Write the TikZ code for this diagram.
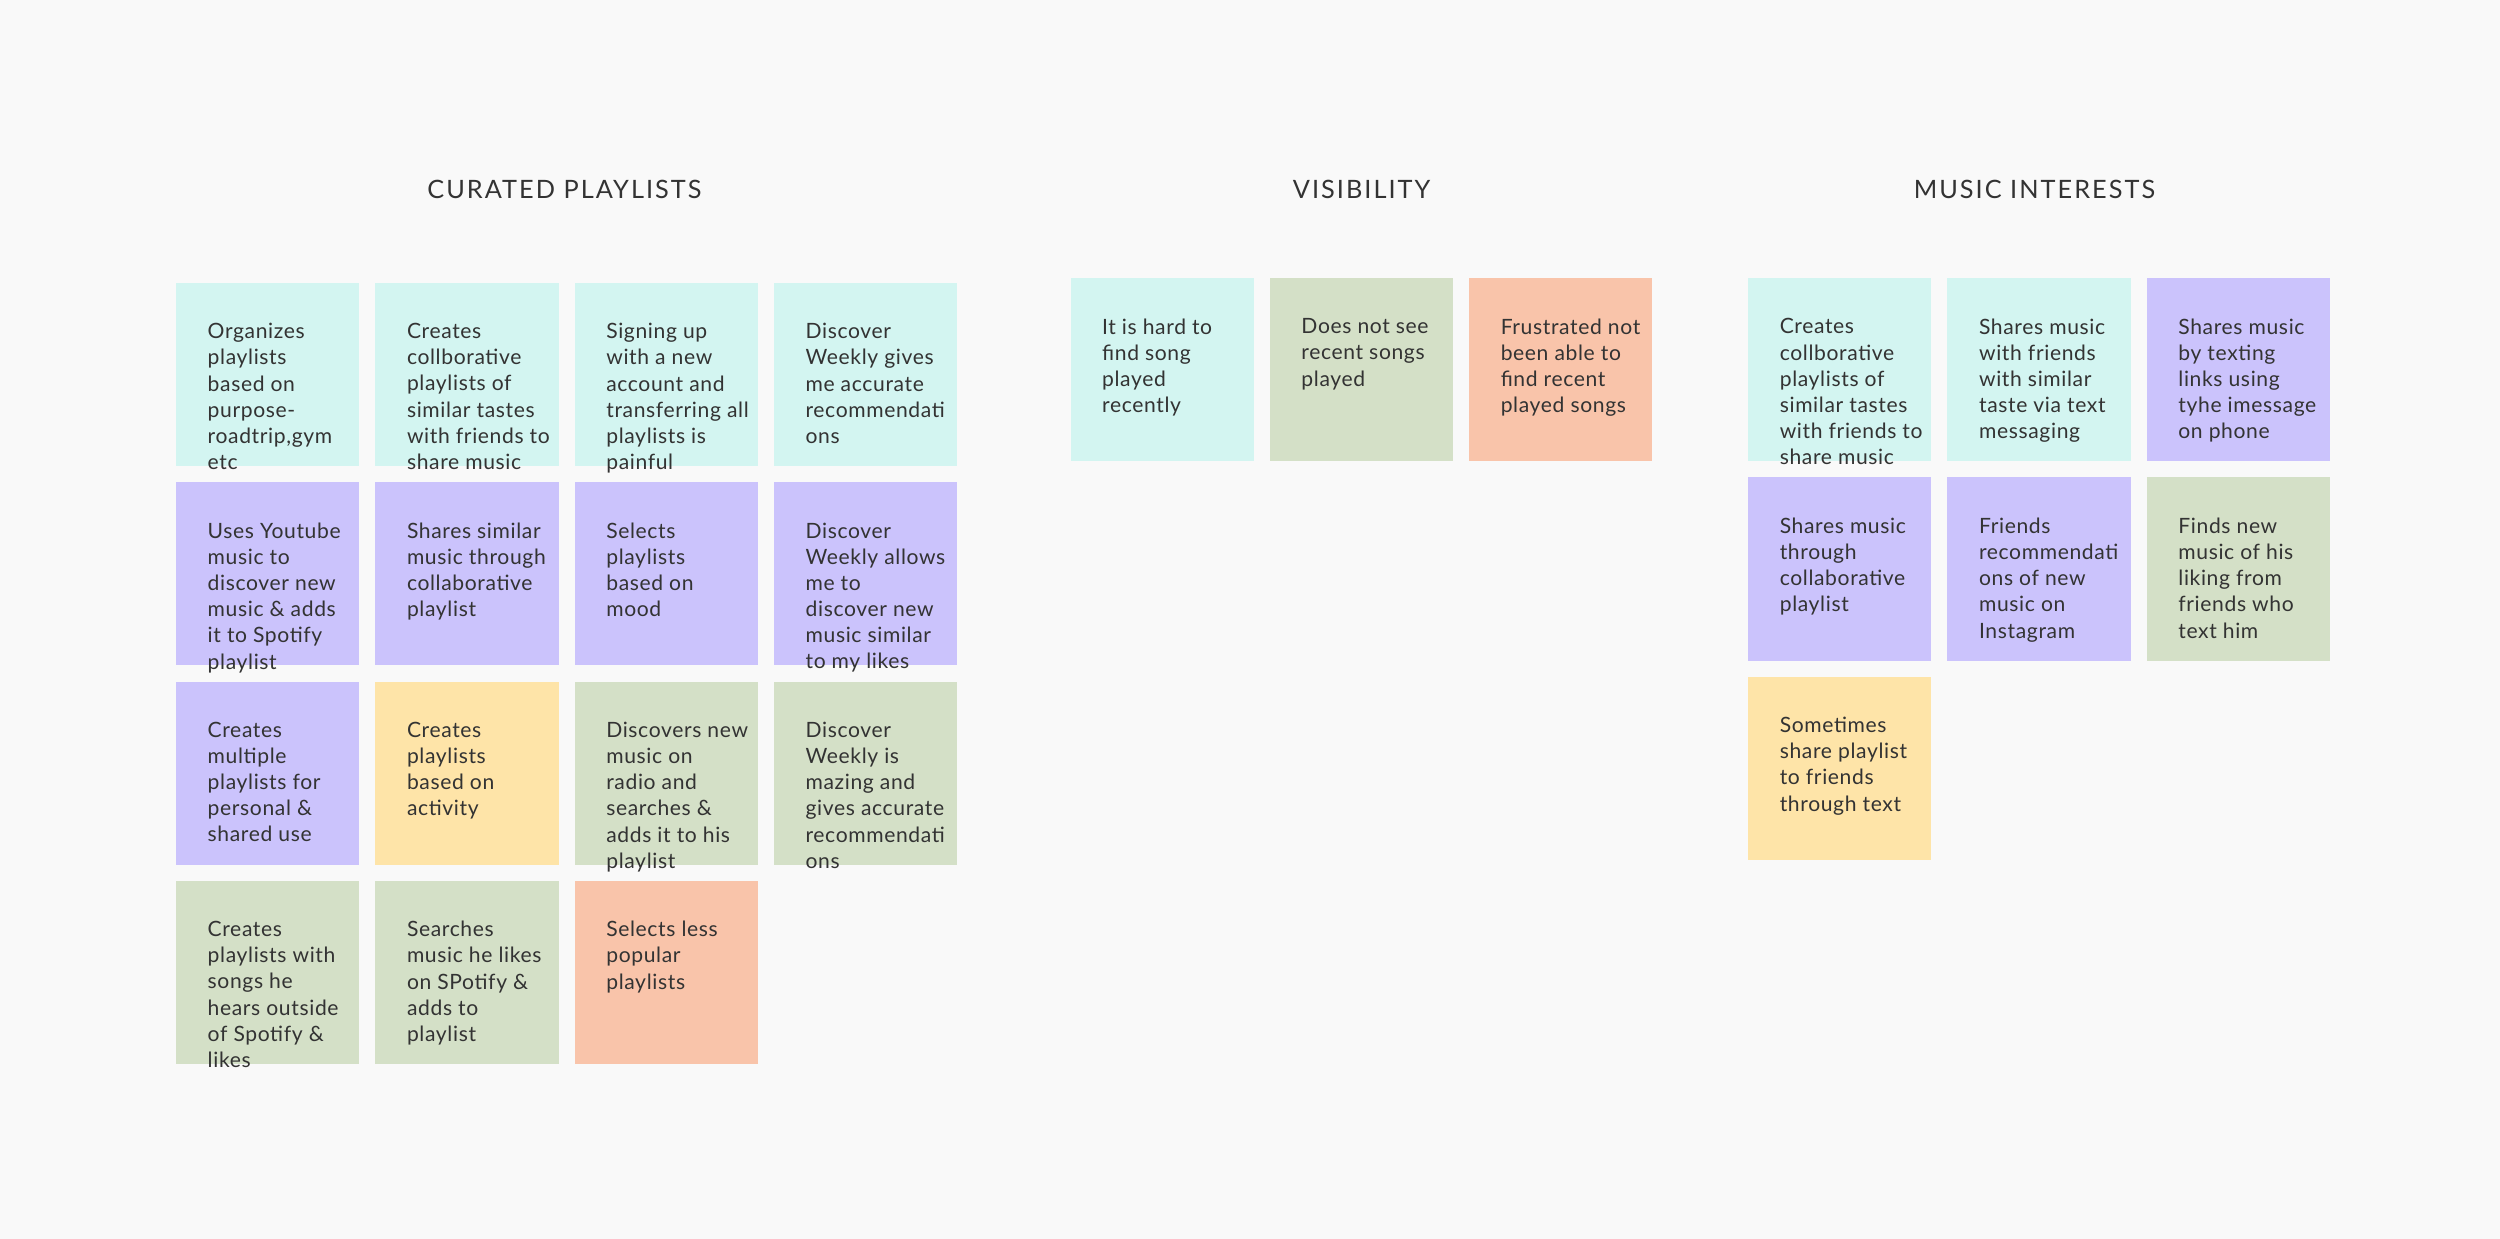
\documentclass[tikz,border=0pt]{standalone}
\usepackage{fontspec}
\setmainfont{Lato}
\definecolor{bg}{HTML}{F9F9F9}
\definecolor{teal}{HTML}{D3F5F1}
\definecolor{lilac}{HTML}{CBC3FC}
\definecolor{sage}{HTML}{D4E0C7}
\definecolor{sand}{HTML}{FEE4A8}
\definecolor{peach}{HTML}{F9C4AA}
\definecolor{ink}{HTML}{333333}
\begin{document}
\begin{tikzpicture}[x=0.01594cm, y=-0.01594cm,
    note/.style={anchor=north west, minimum width=1.833cm, minimum height=1.833cm, inner sep=0pt},
    txt/.style={anchor=north west, align=left, inner sep=0pt, text=ink, font=\fontsize{6}{7.45}\selectfont\addfontfeature{LetterSpace=3}},
    head/.style={text=ink, font=\fontsize{7.2}{8}\selectfont\addfontfeature{LetterSpace=8}}]
    \fill[bg] (0,0) rectangle (1568,777);
    \useasboundingbox (0,0) rectangle (1568,777);

    \node[head] (h1) at (354,119) {CURATED PLAYLISTS};
    \node[head] (h2) at (854,119) {VISIBILITY};
    \node[head] (h3) at (1276,119) {MUSIC INTERESTS};

    % curated playlists
    \node[note, fill=teal] (c1) at (110,177) {};
    \node[txt] at ([shift={(9pt,-11.5pt)}]c1.north west) {Organizes\\playlists\\based on\\purpose-\\roadtrip,gym\\etc};
    \node[note, fill=teal] (c2) at (235,177) {};
    \node[txt] at ([shift={(9pt,-11.5pt)}]c2.north west) {Creates\\collborative\\playlists of\\similar tastes\\with friends to\\share music};
    \node[note, fill=teal] (c3) at (360,177) {};
    \node[txt] at ([shift={(9pt,-11.5pt)}]c3.north west) {Signing up\\with a new\\account and\\transferring all\\playlists is\\painful};
    \node[note, fill=teal] (c4) at (485,177) {};
    \node[txt] at ([shift={(9pt,-11.5pt)}]c4.north west) {Discover\\Weekly gives\\me accurate\\recommendati\\ons};
    \node[note, fill=lilac] (c5) at (110,302) {};
    \node[txt] at ([shift={(9pt,-11.5pt)}]c5.north west) {Uses Youtube\\music to\\discover new\\music \& adds\\it to Spotify\\playlist};
    \node[note, fill=lilac] (c6) at (235,302) {};
    \node[txt] at ([shift={(9pt,-11.5pt)}]c6.north west) {Shares similar\\music through\\collaborative\\playlist};
    \node[note, fill=lilac] (c7) at (360,302) {};
    \node[txt] at ([shift={(9pt,-11.5pt)}]c7.north west) {Selects\\playlists\\based on\\mood};
    \node[note, fill=lilac] (c8) at (485,302) {};
    \node[txt] at ([shift={(9pt,-11.5pt)}]c8.north west) {Discover\\Weekly allows\\me to\\discover new\\music similar\\to my likes};
    \node[note, fill=lilac] (c9) at (110,427) {};
    \node[txt] at ([shift={(9pt,-11.5pt)}]c9.north west) {Creates\\multiple\\playlists for\\personal \&\\shared use};
    \node[note, fill=sand] (c10) at (235,427) {};
    \node[txt] at ([shift={(9pt,-11.5pt)}]c10.north west) {Creates\\playlists\\based on\\activity};
    \node[note, fill=sage] (c11) at (360,427) {};
    \node[txt] at ([shift={(9pt,-11.5pt)}]c11.north west) {Discovers new\\music on\\radio and\\searches \&\\adds it to his\\playlist};
    \node[note, fill=sage] (c12) at (485,427) {};
    \node[txt] at ([shift={(9pt,-11.5pt)}]c12.north west) {Discover\\Weekly is\\mazing and\\gives accurate\\recommendati\\ons};
    \node[note, fill=sage] (c13) at (110,552) {};
    \node[txt] at ([shift={(9pt,-11.5pt)}]c13.north west) {Creates\\playlists with\\songs he\\hears outside\\of Spotify \&\\likes};
    \node[note, fill=sage] (c14) at (235,552) {};
    \node[txt] at ([shift={(9pt,-11.5pt)}]c14.north west) {Searches\\music he likes\\on SPotify \&\\adds to\\playlist};
    \node[note, fill=peach] (c15) at (360,552) {};
    \node[txt] at ([shift={(9pt,-11.5pt)}]c15.north west) {Selects less\\popular\\playlists};

    % visibility
    \node[note, fill=teal] (v1) at (671,174) {};
    \node[txt] at ([shift={(9pt,-11.5pt)}]v1.north west) {It is hard to\\find song\\played\\recently};
    \node[note, fill=sage] (v2) at (796,174) {};
    \node[txt] at ([shift={(9pt,-11.5pt)}]v2.north west) {Does not see\\recent songs\\played};
    \node[note, fill=peach] (v3) at (921,174) {};
    \node[txt] at ([shift={(9pt,-11.5pt)}]v3.north west) {Frustrated not\\been able to\\find recent\\played songs};

    % music interests
    \node[note, fill=teal] (m1) at (1096,174) {};
    \node[txt] at ([shift={(9pt,-11.5pt)}]m1.north west) {Creates\\collborative\\playlists of\\similar tastes\\with friends to\\share music};
    \node[note, fill=teal] (m2) at (1221,174) {};
    \node[txt] at ([shift={(9pt,-11.5pt)}]m2.north west) {Shares music\\with friends\\with similar\\taste via text\\messaging};
    \node[note, fill=lilac] (m3) at (1346,174) {};
    \node[txt] at ([shift={(9pt,-11.5pt)}]m3.north west) {Shares music\\by texting\\links using\\tyhe imessage\\on phone};
    \node[note, fill=lilac] (m4) at (1096,299) {};
    \node[txt] at ([shift={(9pt,-11.5pt)}]m4.north west) {Shares music\\through\\collaborative\\playlist};
    \node[note, fill=lilac] (m5) at (1221,299) {};
    \node[txt] at ([shift={(9pt,-11.5pt)}]m5.north west) {Friends\\recommendati\\ons of new\\music on\\Instagram};
    \node[note, fill=sage] (m6) at (1346,299) {};
    \node[txt] at ([shift={(9pt,-11.5pt)}]m6.north west) {Finds new\\music of his\\liking from\\friends who\\text him};
    \node[note, fill=sand] (m7) at (1096,424) {};
    \node[txt] at ([shift={(9pt,-11.5pt)}]m7.north west) {Sometimes\\share playlist\\to friends\\through text};
\end{tikzpicture}
\end{document}
